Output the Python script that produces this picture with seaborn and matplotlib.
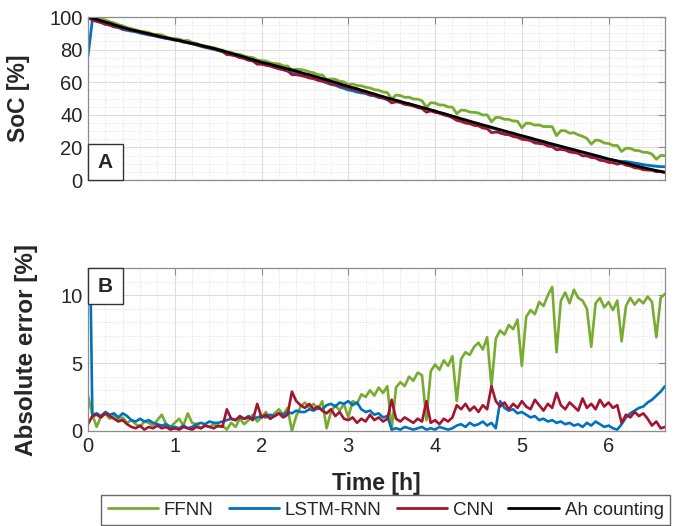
import numpy as np
import pandas as pd
import matplotlib
matplotlib.use("Agg")
import matplotlib.pyplot as plt
from matplotlib.lines import Line2D
from matplotlib.patches import Rectangle
from matplotlib.ticker import MultipleLocator
import seaborn as sns

# ---- data: sampled every 0.05 h ----
dt = 0.05

# Reference state of charge from Ah counting [%]
soc_ah = [
    100.0, 99.3, 98.6, 97.7, 96.9, 96.2, 95.2, 94.5, 93.6, 92.9,
    92.1, 91.6, 91.0, 90.3, 89.8, 89.1, 88.5, 87.8, 87.3, 86.7,
    86.1, 85.6, 85.0, 84.4, 83.8, 83.3, 82.6, 81.9, 81.4, 80.7,
    80.0, 79.3, 78.5, 77.7, 77.0, 76.2, 75.5, 74.6, 73.9, 73.0,
    72.2, 71.6, 71.0, 70.2, 69.6, 68.8, 68.2, 67.5, 66.8, 66.0,
    65.2, 64.6, 63.8, 63.0, 62.2, 61.5, 60.6, 59.9, 59.1, 58.2,
    57.4, 56.7, 56.0, 55.1, 54.4, 53.5, 52.8, 51.9, 51.2, 50.3,
    49.6, 48.9, 48.2, 47.4, 46.8, 46.0, 45.3, 44.5, 43.8, 43.0,
    42.3, 41.5, 40.8, 40.0, 39.2, 38.5, 37.6, 36.9, 36.1, 35.3,
    34.6, 33.8, 33.1, 32.4, 31.6, 30.9, 30.1, 29.4, 28.7, 27.9,
    27.2, 26.5, 25.8, 25.0, 24.3, 23.6, 22.8, 22.1, 21.4, 20.7,
    20.0, 19.3, 18.6, 17.9, 17.2, 16.5, 15.8, 15.1, 14.4, 13.6,
    12.9, 12.3, 11.6, 10.9, 10.3, 9.6, 8.9, 8.3, 7.6, 7.0,
    6.4, 5.8, 5.3, 4.8,
]

# Signed estimation error (estimate - Ah counting) [%]
err_ffnn = [
    2.6, 1.2, 0.3, 1.1, 1.3, 0.9, 1.2, 0.8, 1.0, 0.6,
    0.8, 0.5, 0.3, 0.7, 0.6, 0.4, 0.8, 1.2, 0.5, 0.3,
    0.6, 0.9, 0.4, 1.3, 0.6, 0.5, 0.2, 0.4, 0.3, 0.5,
    0.3, 0.4, 0.1, 0.6, 0.3, 0.9, 0.5, 0.8, 1.2, 0.7,
    1.0, 1.4, 0.9, 1.3, 1.6, 1.2, 1.7, 0.0, 1.1, 1.8,
    2.1, 1.7, 2.0, 1.6, 2.2, 0.2, 1.4, 1.9, 1.5, 2.0,
    1.0, 2.2, 2.0, 2.7, 2.5, 3.0, 2.6, 3.2, 2.8, 3.3,
    0.1, 3.2, 3.6, 3.3, 4.0, 3.7, 4.3, 4.1, 0.8, 4.4,
    4.9, 4.5, 5.2, 4.8, 5.5, 2.2, 5.3, 5.8, 5.6, 6.2,
    6.5, 6.0, 6.9, 3.3, 6.8, 7.4, 7.1, 7.8, 7.5, 8.2,
    4.8, 8.4, 8.9, 8.6, 9.5, 9.2, 10.0, 10.6, 5.8, 9.6,
    10.2, 9.4, 10.4, 9.8, 9.6, 9.0, 6.2, 9.4, 9.8, 9.1,
    9.5, 8.9, 9.6, 6.6, 9.2, 9.8, 9.3, 9.7, 9.4, 9.9,
    9.5, 6.9, 9.8, 10.1,
]

err_lstm = [
    -24.0, -1.2, -1.3, -1.1, -1.4, -1.2, -1.3, -1.0, -1.3, -1.1,
    -0.8, -0.7, -0.9, -0.7, -0.8, -0.6, -0.5, -0.4, -0.5, -0.3,
    -0.3, -0.2, -0.4, -0.2, -0.3, -0.5, -0.6, -0.5, -0.7, -0.6,
    -0.6, -0.7, -0.8, -0.9, -0.8, -1.0, -0.9, -1.1, -0.9, -1.0,
    -1.1, -1.0, -1.2, -1.1, -1.3, -1.2, -1.4, -1.3, -1.5, -1.4,
    -1.4, -1.6, -1.5, -1.7, -1.6, -1.9, -2.0, -1.8, -2.1, -2.0,
    -2.2, -1.9, -2.1, -1.6, -1.4, -1.5, -1.2, -1.3, -1.0, -1.1,
    -0.1, -0.2, -0.1, -0.3, -0.2, -0.1, -0.2, -0.3, -0.1, -0.2,
    -0.1, -0.3, -0.2, -0.1, -0.2, -0.4, -0.5, -0.3, -0.6, -0.4,
    -0.5, -0.7, -0.4, -0.6, -0.2, -2.2, -1.7, -1.5, -1.6, -1.3,
    -1.4, -1.2, -1.0, -1.1, -0.8, -0.9, -0.7, -0.8, -0.6, -0.7,
    -0.5, -0.6, -0.4, -0.5, -0.3, -0.6, -0.4, -0.7, -0.5, -0.3,
    -0.4, -0.2, 0.1, 0.5, 1.0, 1.3, 1.5, 1.7, 1.8, 2.1,
    2.3, 2.6, 2.9, 3.3,
]

err_cnn = [
    -0.5, -1.1, -1.2, -1.0, -1.3, -1.1, -0.9, -0.7, -0.8, -0.5,
    -0.3, -0.2, -0.4, -0.1, -0.3, -0.2, -0.4, -0.2, -0.3, -0.1,
    -0.2, -0.1, -0.3, -0.2, -0.1, -0.3, -0.2, -0.4, -0.3, -0.2,
    -0.4, -0.3, -1.6, -0.9, -0.8, -1.1, -0.9, -1.0, -0.8, -2.0,
    -1.0, -1.2, -0.9, -1.1, -1.3, -1.0, -1.2, -2.9, -2.2, -1.9,
    -1.7, -2.0, -1.6, -1.8, -1.5, -1.3, -1.6, -1.1, -1.4, -0.9,
    -0.8, -1.0, -0.6, -0.9, -0.7, -1.2, -0.8, -1.0, -0.7, -0.9,
    -2.3, -0.9, -0.7, -1.0, -0.8, -0.6, -0.9, -0.7, -2.2, -0.6,
    -0.8, -0.5, -0.9, -0.7, -1.0, -1.9, -1.6, -2.0, -1.5, -1.8,
    -1.4, -1.9, -1.6, -3.3, -2.2, -1.8, -2.1, -1.6, -2.0, -1.7,
    -2.2, -1.8, -1.6, -2.3, -1.9, -1.5, -2.0, -1.7, -2.8, -1.9,
    -1.6, -2.1, -1.8, -1.5, -2.4, -1.7, -2.0, -1.6, -2.3, -1.8,
    -2.1, -1.7, -1.9, -0.6, -1.2, -1.0, -1.4, -1.1, -1.3, -0.9,
    -0.4, -0.7, -0.2, -0.3,
]

models = ["FFNN", "LSTM-RNN", "CNN", "Ah counting"]
colors = ["#77AC30", "#0072BD", "#A2142F", "#000000"]

time_h = np.arange(len(soc_ah)) * dt
ah = np.array(soc_ah)
signed = {"FFNN": np.array(err_ffnn), "LSTM-RNN": np.array(err_lstm),
          "CNN": np.array(err_cnn)}

soc_frames = [pd.DataFrame({"t": time_h, "v": ah + e, "model": m})
              for m, e in signed.items()]
soc_frames.append(pd.DataFrame({"t": time_h, "v": ah, "model": "Ah counting"}))
soc_df = pd.concat(soc_frames, ignore_index=True)

err_df = pd.concat([pd.DataFrame({"t": time_h, "v": np.abs(e), "model": m})
                    for m, e in signed.items()], ignore_index=True)

# ---- style ----
sns.set_theme(style="white")
plt.rcParams["font.family"] = ["Liberation Sans", "DejaVu Sans"]

W, H = 676, 526
fig = plt.figure(figsize=(W / 100, H / 100), dpi=100)

def px_axes(l, t, r, b):
    return fig.add_axes([l / W, 1 - b / H, (r - l) / W, (b - t) / H])

ax1 = px_axes(88, 17, 665, 180)
ax2 = px_axes(88, 268, 665, 431)

palette = dict(zip(models, colors))

sns.lineplot(data=soc_df, x="t", y="v", hue="model", hue_order=models,
             palette=palette, ax=ax1, legend=False, estimator=None,
             sort=False, linewidth=2.0)
sns.lineplot(data=err_df, x="t", y="v", hue="model", hue_order=models[:3],
             palette=palette, ax=ax2, legend=False, estimator=None,
             sort=False, linewidth=1.9)

spine_c = "#8c8c8c"
for ax, ymax, ymaj, ymin in [(ax1, 100, 20, 5), (ax2, 12, 5, 1)]:
    ax.set_xlim(0, time_h[-1])
    ax.set_ylim(0, ymax)
    ax.xaxis.set_major_locator(MultipleLocator(1))
    ax.xaxis.set_minor_locator(MultipleLocator(0.2))
    ax.yaxis.set_major_locator(MultipleLocator(ymaj))
    ax.yaxis.set_minor_locator(MultipleLocator(ymin))
    ax.grid(True, which="major", color="#dedede", linewidth=0.8, linestyle="-")
    ax.grid(True, which="minor", color="#dadada", linewidth=0.6, linestyle=":")
    ax.set_axisbelow(True)
    for s in ax.spines.values():
        s.set_color(spine_c)
        s.set_linewidth(0.9)
        s.set_visible(True)
    ax.tick_params(which="major", direction="in", length=5, width=0.8,
                   color=spine_c, top=True, right=True, labelsize=14.5,
                   labelcolor="#262626", pad=4)
    ax.tick_params(which="minor", length=0)
    ax.set_xlabel("")
    ax.set_ylabel("")

ax1.tick_params(labelbottom=False)
ax1.set_ylabel("SoC [%]", fontsize=16.5, fontweight="bold")
ax1.yaxis.set_label_coords(-0.1, 0.5)
ax2.set_ylabel("Absolute error [%]", fontsize=17.5, fontweight="bold")
ax2.yaxis.set_label_coords(-0.087, 0.5)
ax2.set_xlabel("Time [h]", fontsize=16.5, fontweight="bold", labelpad=12)

# Panel letters
for ax, letter, y0 in [(ax1, "A", 0.0), (ax2, "B", 1 - 36 / 163)]:
    w, h = 35 / 577, 36 / 163
    ax.add_patch(Rectangle((0, y0), w, h, transform=ax.transAxes,
                           facecolor="white", edgecolor="#333333",
                           linewidth=1.0, zorder=5, clip_on=False))
    ax.text(w / 2, y0 + h / 2, letter, transform=ax.transAxes,
            ha="center", va="center", fontsize=15, fontweight="bold",
            zorder=6)

handles = [Line2D([0], [0], color=c, linewidth=2) for c in colors]
fig.legend(handles, models, loc="upper left",
           bbox_to_anchor=(101 / W, 1 - 495 / H), borderaxespad=0,
           ncol=4, frameon=True, fancybox=False, edgecolor="#666666",
           framealpha=1, handlelength=2.7, handletextpad=0.3,
           columnspacing=0.8, borderpad=0.35, fontsize=13.5)

fig.savefig("out.png", dpi=100)
